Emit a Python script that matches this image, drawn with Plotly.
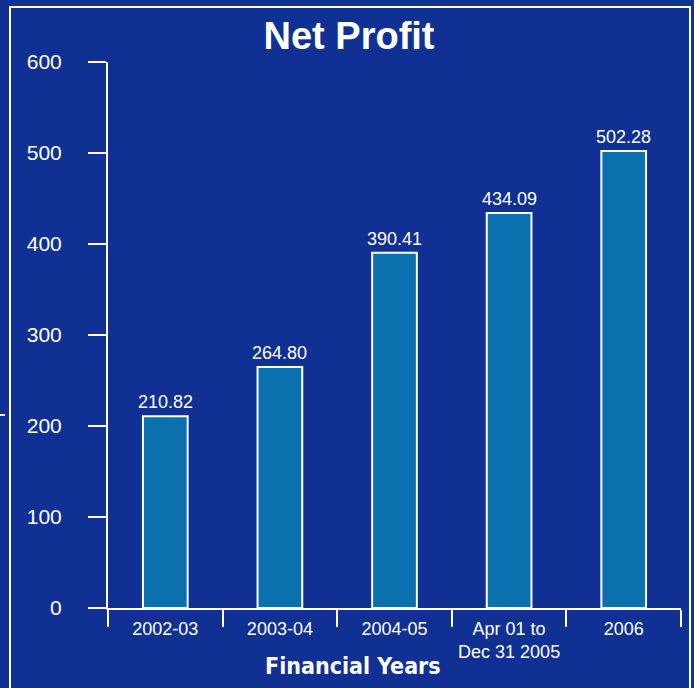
import plotly.graph_objects as go

categories = ["2002-03", "2003-04", "2004-05", "Apr 01 to<br>Dec 31 2005", "2006"]
net_profit = [210.82, 264.80, 390.41, 434.09, 502.28]
value_labels = ["210.82", "264.80", "390.41", "434.09", "502.28"]
y_ticks = [0, 100, 200, 300, 400, 500, 600]

BG = "#103093"
BAR = "#0A70AE"
W = "white"
FONT = "Liberation Sans, Arial, sans-serif"

L, R, T, B = 108, 13, 62, 80
PW = 694 - L - R
PH = 688 - T - B


def px(x):
    return (x - L) / PW


def py(y):
    return (688 - B - y) / PH


fig = go.Figure(
    go.Bar(
        x=categories,
        y=net_profit,
        marker=dict(color=BAR, line=dict(color=W, width=2)),
        width=0.39,
        hoverinfo="skip",
    )
)

annotations = [
    dict(
        x=i, y=v, xref="x", yref="y", text=t,
        xanchor="center", yanchor="bottom", yshift=2,
        showarrow=False, font=dict(size=18, color=W, family=FONT),
    )
    for i, (v, t) in enumerate(zip(net_profit, value_labels))
]
annotations.append(
    dict(
        text="<b>Financial Years</b>",
        xref="paper", yref="paper",
        x=px(353), y=py(666),
        xanchor="center", yanchor="middle",
        showarrow=False,
        font=dict(size=23, color=W, family="DejaVu Sans Condensed, Liberation Sans Narrow, sans-serif"),
    )
)

fig.update_layout(
    width=694,
    height=688,
    paper_bgcolor=BG,
    plot_bgcolor=BG,
    margin=dict(l=L, r=R, t=T, b=B),
    showlegend=False,
    font=dict(family=FONT, color=W),
    title=dict(
        text="<b>Net Profit</b>",
        x=px(349), xanchor="center", xref="paper",
        y=1 - 36 / 688, yanchor="middle",
        font=dict(size=38, color=W, family=FONT),
    ),
    xaxis=dict(
        type="category",
        categoryorder="array", categoryarray=categories,
        range=[-0.5, len(categories) - 0.5],
        showline=True, linecolor=W, linewidth=2,
        ticks="outside", tickcolor=W, tickwidth=2, ticklen=17,
        tickson="boundaries", tickangle=0,
        ticklabelstandoff=3,
        tickfont=dict(size=18, color=W),
        showgrid=False, zeroline=False,
    ),
    yaxis=dict(
        range=[0, 600],
        tickvals=y_ticks,
        showline=True, linecolor=W, linewidth=2,
        ticks="outside", tickcolor=W, tickwidth=2, ticklen=18,
        ticklabelstandoff=22,
        tickfont=dict(size=21, color=W),
        showgrid=False, zeroline=False,
    ),
    annotations=annotations,
    shapes=[
        dict(
            type="rect", xref="paper", yref="paper",
            x0=px(10), x1=px(690),
            y0=py(700), y1=py(7),
            line=dict(color=W, width=2), fillcolor="rgba(0,0,0,0)", layer="below",
        ),
        dict(
            type="line", xref="paper", yref="paper",
            x0=px(0), x1=px(5),
            y0=py(415), y1=py(415),
            line=dict(color=W, width=2),
        ),
    ],
)

fig.write_html(
    "out.html",
    config={"displayModeBar": False},
    post_script="document.body.style.margin='0';document.body.style.background='%s';" % BG,
)
